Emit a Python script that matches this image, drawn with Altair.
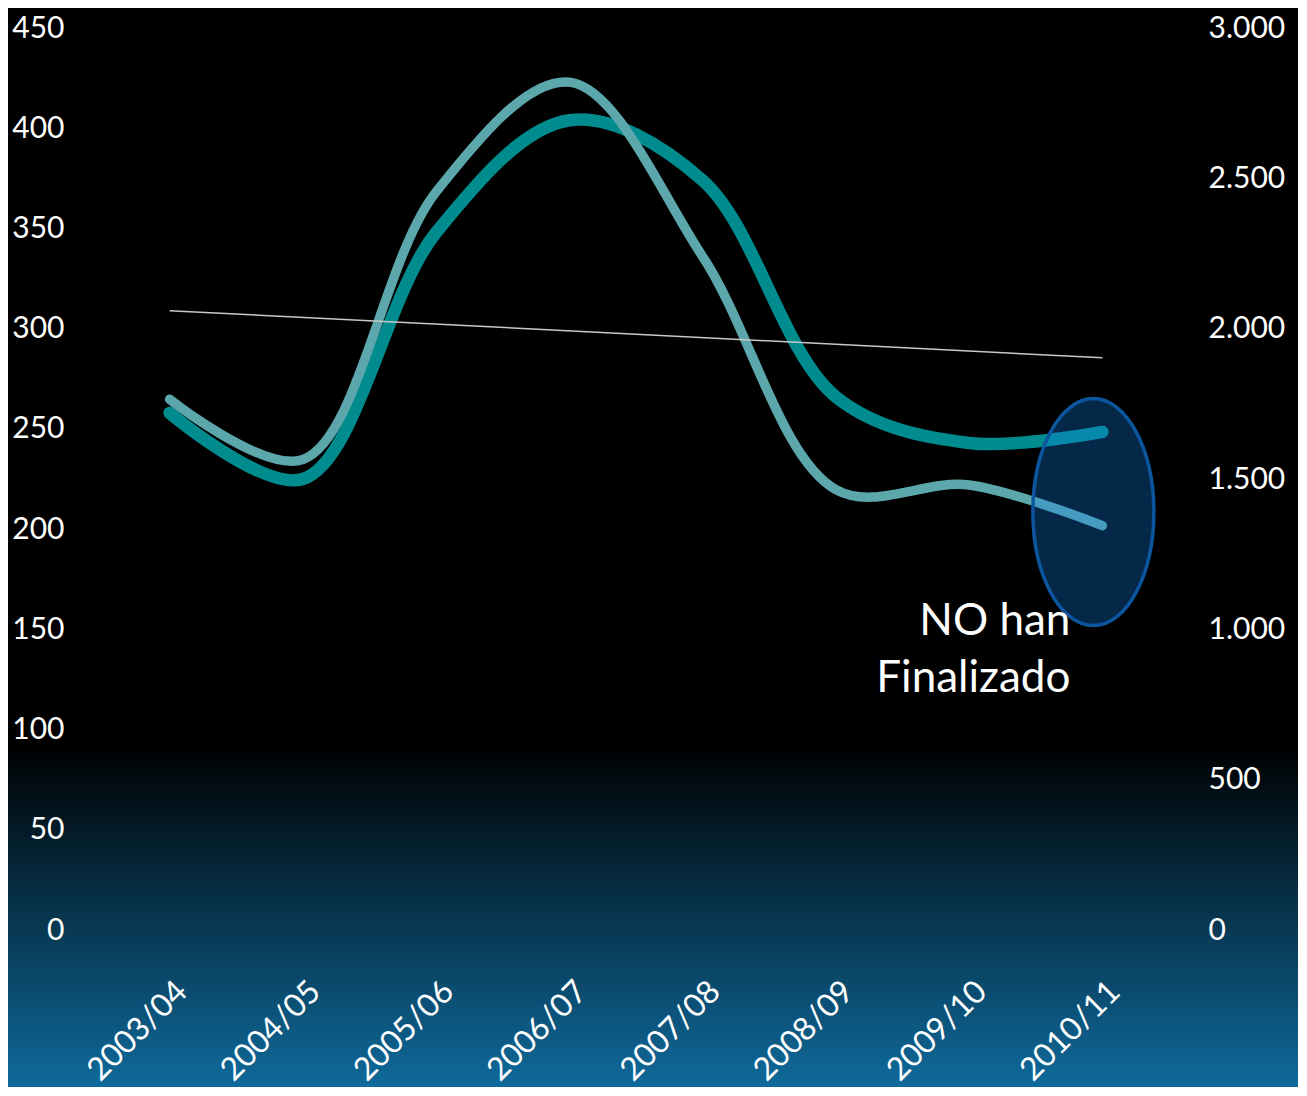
import altair as alt
import pandas as pd

# ---- data ----
periods = ["2003/04", "2004/05", "2005/06", "2006/07", "2007/08", "2008/09", "2009/10", "2010/11"]
dark_values = [255, 222, 345, 401, 371, 263, 240, 245.5]          # left axis (0-450)
light_values = [1745, 1545, 2435, 2800, 2220, 1445, 1460, 1325]  # right axis (0-3.000)
trend_periods = ["2003/04", "2010/11"]
trend_values = [306, 282.5]                                       # linear trend of dark series
left_ticks = [0, 50, 100, 150, 200, 250, 300, 350, 400, 450]
right_ticks = [0, 500, 1000, 1500, 2000, 2500, 3000]
note_period = "2010/11"
note_value = 144
note_text = "NO han\nFinalizado"
ellipse_period = "2010/11"
ellipse_value = 205.5

W, H = 1066, 902
PAD = {"left": 95, "top": 14, "right": 129, "bottom": 163}

dark_df = pd.DataFrame({"period": periods, "value": dark_values})
light_df = pd.DataFrame({"period": periods, "value": light_values})
trend_df = pd.DataFrame({"period": trend_periods, "value": trend_values})
note_df = pd.DataFrame({"period": [note_period], "value": [note_value], "text": [note_text]})
ell_df = pd.DataFrame({"period": [ellipse_period], "value": [ellipse_value]})
bg_df = pd.DataFrame({"a": [0]})

FONT = "Lato"
CURVE = "catmull-rom"

x_axis = alt.Axis(
    title=None, labelAngle=315, labelAlign="right", labelBaseline="middle",
    labelFontSize=32, labelFont=FONT, labelColor="white", labelPadding=62,
    labelOffset=12, ticks=False, tickSize=0, domain=False, grid=False, zindex=1,
    labelBound=False, labelOverlap=False,
)
x_enc = alt.X("period:O", sort=periods, scale=alt.Scale(domain=periods), axis=x_axis)

left_scale = alt.Scale(domain=[0, 450], nice=False, zero=True)

bg = alt.Chart(bg_df).mark_rect(
    fill=alt.Gradient(
        gradient="linear", x1=0, x2=0, y1=0, y2=1,
        stops=[
            alt.GradientStop(color="#000000", offset=0),
            alt.GradientStop(color="#000000", offset=0.682),
            alt.GradientStop(color="#0f6a9b", offset=1),
        ],
    )
).encode(
    x=alt.value(-PAD["left"]), x2=alt.value(W + PAD["right"]),
    y=alt.value(-PAD["top"]), y2=alt.value(H + PAD["bottom"]),
)

dark = alt.Chart(dark_df).mark_line(
    color="#008b8f", strokeWidth=12.5, interpolate=CURVE, strokeCap="round"
).encode(
    x=x_enc,
    y=alt.Y("value:Q", scale=left_scale,
            axis=alt.Axis(orient="left", title=None, values=left_ticks, labelFont=FONT,
                          labelFontSize=30, labelColor="white", labelPadding=39,
                          labelOffset=6,
                          ticks=False, tickSize=0, domain=False, grid=False, zindex=1,
                          labelOverlap=False)),
)

light = alt.Chart(light_df).mark_line(
    color="#5ba7ac", strokeWidth=9.5, interpolate=CURVE, strokeCap="round"
).encode(
    x=x_enc,
    y=alt.Y("value:Q", scale=alt.Scale(domain=[0, 3000], nice=False, zero=True),
            axis=alt.Axis(orient="right", title=None, values=right_ticks, labelFont=FONT,
                          labelFontSize=30, labelColor="white", labelPadding=39,
                          labelOffset=6,
                          labelExpr="replace(format(datum.value, ',.0f'), ',', '.')",
                          ticks=False, tickSize=0, domain=False, grid=False, zindex=1,
                          labelOverlap=False)),
)

trend = alt.Chart(trend_df).mark_line(color="#c8c8c8", strokeWidth=1.5).encode(
    x=x_enc,
    y=alt.Y("value:Q", scale=left_scale, axis=None),
)

a = 0.533
k = 0.5523
ak = a * k
ellipse_path = (
    f"M {-a},0 C {-a},{-k} {-ak},-1 0,-1 C {ak},-1 {a},{-k} {a},0 "
    f"C {a},{k} {ak},1 0,1 C {-ak},1 {-a},{k} {-a},0 Z"
)

ellipse = alt.Chart(ell_df).mark_point(
    shape=ellipse_path, size=51529, filled=True, fill="#1485f0", fillOpacity=0.3,
    stroke="#0c559f", strokeWidth=3.5, strokeOpacity=1, opacity=1, xOffset=-9,
).encode(
    x=x_enc,
    y=alt.Y("value:Q", scale=left_scale, axis=None),
)

note = alt.Chart(note_df).mark_text(
    align="right", baseline="alphabetic", dx=-32, font=FONT, fontSize=44,
    color="white", lineBreak="\n", lineHeight=57,
).encode(
    x=x_enc,
    y=alt.Y("value:Q", scale=left_scale, axis=None),
    text="text:N",
)

chart = alt.layer(bg, dark, light, trend, ellipse, note).resolve_scale(
    y="independent"
).properties(
    width=W, height=H, padding=PAD, autosize=alt.AutoSizeParams(type="none"),
    background="black",
).configure_view(stroke=None)

chart.save("out.html", embed_options={"renderer": "svg", "actions": False})
